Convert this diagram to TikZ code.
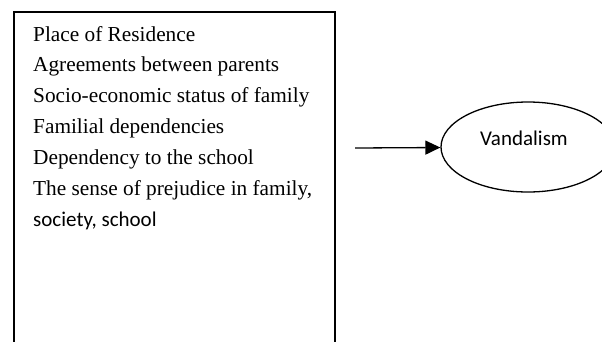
\documentclass[tikz,border=0pt]{standalone}
\usepackage{fontspec}
\setmainfont{Liberation Serif}
\newfontfamily\carlito{Carlito}
\usetikzlibrary{arrows.meta,positioning,shapes.geometric}

\tikzset{
  factortext/.style={anchor=base west,inner sep=0pt,font=\fontsize{21.3}{25}\selectfont},
  outcome/.style={ellipse,draw,line width=1.3pt,minimum width=174pt,minimum height=90pt},
}

\begin{document}
\begin{tikzpicture}[x=1pt,y=-1pt]
  \useasboundingbox (0,0) rectangle (602,341);
  \clip (0,0) rectangle (602,341);

  % list of factors, box open at the bottom
  \node[draw,line width=1.8pt,anchor=north west,minimum width=321pt,minimum height=400pt] (factors) at (13,11) {};
  \foreach \t [count=\i from 0] in {Place of Residence,Agreements between parents,Socio-economic status of family,Familial dependencies,Dependency to the school,{The sense of prejudice in family,}}
    \node[factortext] (f\i) at (33,41+30.8*\i) {\t};
  \node[factortext,font=\carlito\fontsize{21}{25}\selectfont] (f6) at (33,226) {society, school};

  % outcome
  \node[outcome] (vand) at (528,147) {};
  \node[font=\carlito\fontsize{21}{25}\selectfont] (vlabel) at ([xshift=-4pt,yshift=9pt]vand.center) {Vandalism};

  \coordinate (tail) at (355,148);
  \draw[-{Triangle[length=15pt,width=14pt]},line width=1.3pt] (tail) -- (vand);
\end{tikzpicture}
\end{document}
